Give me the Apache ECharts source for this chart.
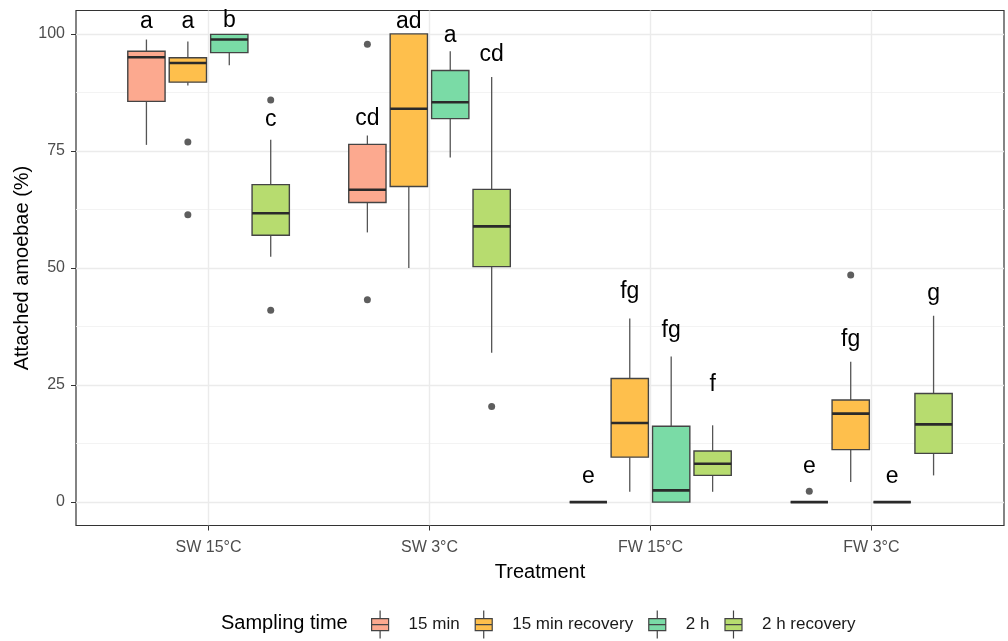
<!DOCTYPE html>
<html>
<head>
<meta charset="utf-8">
<script src="https://cdn.jsdelivr.net/npm/echarts@6/dist/echarts.min.js"></script>
<style>
  html, body { margin: 0; padding: 0; background: #fff; }
  #chart { width: 1008px; height: 641px; }
</style>
</head>
<body>
<div id="chart"></div>
<script>
// Treatments on the x axis and sampling times (one box per treatment)
var treatments = ['SW 15°C', 'SW 3°C', 'FW 15°C', 'FW 3°C'];
var samplingTimes = ['15 min', '15 min recovery', '2 h', '2 h recovery'];
var yTicks = [0, 25, 50, 75, 100];
var yMinorTicks = [12.5, 37.5, 62.5, 87.5];

// box summaries, one row per treatment: [lower whisker, Q1, median, Q3, upper whisker]
var box15min    = [[76.3, 85.6, 95.0, 96.3, 98.8], [57.6, 64.0, 66.7, 76.4, 78.3], [0, 0, 0, 0, 0], [0, 0, 0, 0, 0]];
var box15minRec = [[89.0, 89.7, 93.8, 94.9, 98.4], [50.0, 67.4, 84.0, 100, 100], [2.2, 9.6, 16.9, 26.4, 39.2], [4.3, 11.2, 18.9, 21.8, 30.0]];
var box2h       = [[93.3, 96.0, 98.8, 99.9, 100], [73.6, 81.9, 85.4, 92.2, 96.3], [0, 0, 2.5, 16.2, 31.1], [0, 0, 0, 0, 0]];
var box2hRec    = [[52.4, 57.0, 61.7, 67.8, 77.4], [31.9, 50.3, 58.9, 66.8, 90.8], [2.2, 5.7, 8.2, 10.9, 16.4], [5.7, 10.4, 16.6, 23.2, 39.8]];

// outliers: [treatment index, value]
var out15min    = [[1, 97.8], [1, 43.2], [3, 2.3]];
var out15minRec = [[0, 76.9], [0, 61.4], [3, 48.5]];
var out2h       = [];
var out2hRec    = [[0, 85.9], [0, 41.0], [1, 20.4]];

// significance letters and the value they sit on
var letters15min    = ['a', 'cd', 'e', 'e'];
var letters15minRec = ['a', 'ad', 'fg', 'fg'];
var letters2h       = ['b', 'a', 'fg', 'e'];
var letters2hRec    = ['c', 'cd', 'f', 'g'];
var letterY15min    = [100.7, 80.1, 3.7, 5.7];
var letterY15minRec = [100.9, 100.9, 43.2, 32.8];
var letterY2h       = [101.1, 97.9, 34.9, 3.7];
var letterY2hRec    = [79.8, 93.8, 23.3, 42.6];

var boxStats = [box15min, box15minRec, box2h, box2hRec];
var outliers = [out15min, out15minRec, out2h, out2hRec];
var letters = [letters15min, letters15minRec, letters2h, letters2hRec];
var letterY = [letterY15min, letterY15minRec, letterY2h, letterY2hRec];
var fills = ['#FCA98F', '#FEBF4C', '#7ADBA6', '#B7DC6F'];

var FONT = '"Liberation Sans", Arial, sans-serif';
// ggplot-like dodging: 4 boxes share 0.75 of a category, each box 90% of its slot
var slot = 0.75 / samplingTimes.length;
var halfBox = slot * 0.9 / 2;
function offsetOf(k) { return (k - (samplingTimes.length - 1) / 2) * slot; }

var keyIcon = 'path://M0,8L17,8L17,20L0,20Z M0,14L17,14 M8.5,0L8.5,8 M8.5,20L8.5,28';

function makeRender(k) {
  return function (params, api) {
    var cx = api.value(0) + offsetOf(k);
    var low = api.value(1), q1 = api.value(2), med = api.value(3), q3 = api.value(4), high = api.value(5);
    var tl = api.coord([cx - halfBox, q3]);
    var br = api.coord([cx + halfBox, q1]);
    var pHigh = api.coord([cx, high]);
    var pLow = api.coord([cx, low]);
    var mL = api.coord([cx - halfBox, med]);
    var mR = api.coord([cx + halfBox, med]);
    var lab = api.coord([cx, letterY[k][params.dataIndex]]);
    return {
      type: 'group',
      children: [
        { type: 'line', shape: { x1: pHigh[0], y1: pHigh[1], x2: pHigh[0], y2: tl[1] },
          style: { stroke: '#555', lineWidth: 1.3 } },
        { type: 'line', shape: { x1: pLow[0], y1: br[1], x2: pLow[0], y2: pLow[1] },
          style: { stroke: '#555', lineWidth: 1.3 } },
        { type: 'rect', shape: { x: tl[0], y: tl[1], width: br[0] - tl[0], height: br[1] - tl[1] },
          style: { fill: fills[k], stroke: '#444', lineWidth: 1.4 } },
        { type: 'line', shape: { x1: mL[0], y1: mL[1], x2: mR[0], y2: mR[1] },
          style: { stroke: '#2a2a2a', lineWidth: 2.6 } },
        { type: 'text', x: lab[0], y: lab[1] + 3,
          style: { text: letters[k][params.dataIndex], fontSize: 23, fontFamily: FONT,
                   align: 'center', verticalAlign: 'bottom', fill: '#000' } }
      ]
    };
  };
}

var series = [];
samplingTimes.forEach(function (name, k) {
  series.push({
    name: name,
    type: 'custom',
    xAxisIndex: 0,
    yAxisIndex: 0,
    itemStyle: { color: fills[k] },
    renderItem: makeRender(k),
    data: boxStats[k].map(function (s, i) { return [i + 1].concat(s); }),
    clip: false,
    z: 3
  });
});
samplingTimes.forEach(function (name, k) {
  series.push({
    name: 'outliers ' + name,
    type: 'scatter',
    xAxisIndex: 0,
    yAxisIndex: 0,
    symbolSize: 7,
    itemStyle: { color: '#4d4d4d', opacity: 0.9 },
    data: outliers[k].map(function (o) { return [o[0] + 1 + offsetOf(k), o[1]]; }),
    z: 4
  });
});

var chart = echarts.init(document.getElementById('chart'));
chart.setOption({
  animation: false,
  backgroundColor: '#fff',
  textStyle: { fontFamily: FONT },
  title: {
    text: 'Sampling time',
    left: 221, top: 613, padding: 0,
    textStyle: { fontSize: 20, fontWeight: 'normal', color: '#000', fontFamily: FONT }
  },
  legend: {
    data: samplingTimes.map(function (n) { return { name: n, icon: keyIcon }; }),
    left: 371, top: 610, padding: 0,
    itemWidth: 17, itemHeight: 28, itemGap: 15,
    selectedMode: false,
    itemStyle: { borderColor: '#444', borderWidth: 1.2 },
    textStyle: { fontSize: 17, color: '#1a1a1a', fontFamily: FONT, padding: [0, 0, 0, 15] }
  },
  grid: {
    left: 76, right: 4, top: 10.5, bottom: 115.5,
    show: true, borderColor: '#333', borderWidth: 1.2, backgroundColor: '#fff'
  },
  xAxis: {
    type: 'value', min: 0.4, max: 4.6,
    name: 'Treatment', nameLocation: 'middle', nameGap: 37, nameMoveOverlap: false,
    nameTextStyle: { fontSize: 20, color: '#000', fontFamily: FONT },
    axisLine: { show: false, onZero: false },
    axisTick: { show: true, length: 5, customValues: [1, 2, 3, 4], lineStyle: { color: '#333' } },
    axisLabel: {
      customValues: [1, 2, 3, 4], fontSize: 16, color: '#4d4d4d', margin: 14,
      formatter: function (v) { return treatments[Math.round(v) - 1]; }
    },
    splitLine: { show: true, lineStyle: { color: '#ebebeb', width: 1.4 } }
  },
  yAxis: [{
    type: 'value', min: -5, max: 105,
    name: 'Attached amoebae (%)', nameLocation: 'middle', nameGap: 44, nameMoveOverlap: false,
    nameTextStyle: { fontSize: 20, color: '#000', fontFamily: FONT },
    axisLine: { show: false, onZero: false },
    axisTick: { show: true, length: 5, customValues: yTicks, lineStyle: { color: '#333' } },
    axisLabel: { customValues: yTicks, fontSize: 16, color: '#4d4d4d', margin: 11 },
    splitLine: { show: true, lineStyle: { color: '#ebebeb', width: 1.4 } }
  }, {
    type: 'value', min: -5, max: 105, position: 'left',
    axisLine: { show: false, onZero: false },
    axisTick: { show: false, customValues: yMinorTicks },
    axisLabel: { show: false },
    splitLine: { show: true, lineStyle: { color: '#f2f2f2', width: 0.9 } }
  }],
  series: series
});
</script>
</body>
</html>
